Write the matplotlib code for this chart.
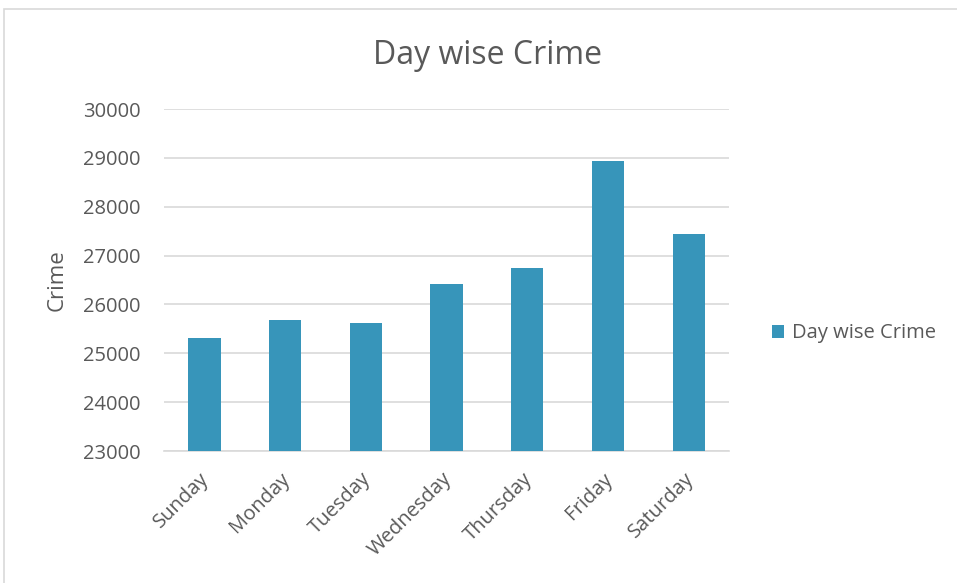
import matplotlib.pyplot as plt
import matplotlib.patches as mpatches
import matplotlib.transforms as mtransforms
import numpy as np

days = ['Sunday', 'Monday', 'Tuesday', 'Wednesday', 'Thursday', 'Friday', 'Saturday']
crime_counts = [25315, 25690, 25610, 26415, 26745, 28945, 27445]
y_ticks = [23000, 24000, 25000, 26000, 27000, 28000, 29000, 30000]

bar_color = '#3795BA'
text_color = '#595959'
grid_color = '#D9D9D9'

plt.rcParams['font.family'] = ['Open Sans', 'DejaVu Sans']

fig = plt.figure(figsize=(9.57, 5.83), dpi=100)
ax = fig.add_axes([0.1714, 0.2264, 0.5904, 0.5866])

# outer chart border
fig.patches.append(mpatches.Rectangle((4 / 957, -0.01), 1.0, 1 - 9 / 583 + 0.01,
                                      transform=fig.transFigure, fill=False,
                                      edgecolor='#D9D9D9', linewidth=1.2))

x_pos = np.arange(len(days))
ax.bar(x_pos, crime_counts, width=0.4, color=bar_color, label='Day wise Crime', zorder=3)

ax.set_xlim(-0.5, len(days) - 0.5)
ax.set_ylim(23000, 30000)
ax.set_yticks(y_ticks)
ax.set_yticklabels([str(v) for v in y_ticks], fontsize=14.5, color=text_color)
ax.set_xticks(x_pos)
ax.set_xticklabels(days, rotation=45, ha='right', rotation_mode='anchor',
                   fontsize=14.5, color=text_color)
ax.tick_params(axis='both', length=0)
ax.tick_params(axis='y', pad=17)
ax.tick_params(axis='x', pad=13)

# nudge the rotated day labels a little to the left
shift = mtransforms.ScaledTranslation(-5 / 100, 0, fig.dpi_scale_trans)
for lbl in ax.get_xticklabels():
    lbl.set_transform(lbl.get_transform() + shift)

ax.grid(axis='y', color=grid_color, linewidth=1.2, zorder=0)
for side in ['top', 'right', 'left']:
    ax.spines[side].set_visible(False)
ax.spines['bottom'].set_color(grid_color)
ax.spines['bottom'].set_linewidth(1.2)

ax.set_ylabel('Crime', fontsize=16, color=text_color)
ax.yaxis.set_label_coords(-0.17, 0.5)
fig.text(0.509, 1 - 55 / 583, 'Day wise Crime', ha='center', va='center',
         fontsize=23, color=text_color)

ax.legend(loc='center left', bbox_to_anchor=(0.788, 0.428), bbox_transform=fig.transFigure,
          frameon=False, fontsize=14.5, labelcolor=text_color,
          handlelength=0.6, handleheight=0.6, handletextpad=0.4)

plt.savefig('out.png', dpi=100)
